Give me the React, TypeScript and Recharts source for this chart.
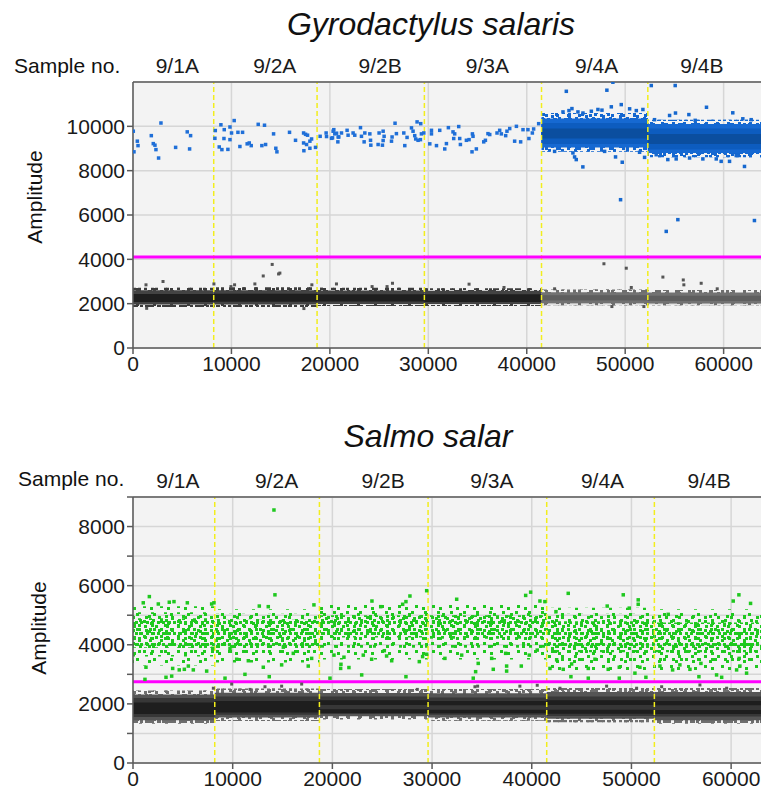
import React from "react";
import {
  ComposedChart,
  Scatter,
  XAxis,
  YAxis,
  CartesianGrid,
  ReferenceArea,
  ReferenceLine,
} from "recharts";

// droplet index boundaries of the six wells
const wellEdges = [0, 8200, 18700, 29600, 41500, 52300, 64000];
const dividerX = [8200, 18700, 29600, 41500, 52300];
const sampleNames = ["9/1A", "9/2A", "9/2B", "9/3A", "9/4A", "9/4B"];
const sampleLabelX = [4500, 14400, 25100, 36000, 47100, 57800];
const xTicks = [0, 10000, 20000, 30000, 40000, 50000, 60000];

// Gyrodactylus salaris panel
const gsYTicks = [0, 2000, 4000, 6000, 8000, 10000];
const gsThreshold = 4100;
// dense clusters: [well, low, high]
const gsNegFringe = [[0, 1850, 2720], [1, 1850, 2740], [2, 1900, 2720], [3, 1900, 2700]];
const gsNegOuter = [[0, 1960, 2600], [1, 1960, 2610], [2, 1990, 2590], [3, 1980, 2580]];
const gsNegCore = [[0, 2080, 2440], [1, 2090, 2450], [2, 2100, 2430], [3, 2080, 2420]];
const gsNegFringeLate = [[4, 1930, 2640], [5, 1930, 2620]];
const gsNegOuterLate = [[4, 2020, 2520], [5, 2010, 2500]];
const gsNegCoreLate = [[4, 2140, 2380], [5, 2120, 2360]];
const gsPosFringeBand = [[4, 8850, 10600], [5, 8600, 10300]];
const gsPosOuter = [[4, 9050, 10350], [5, 8800, 10100]];
const gsPosMid = [[4, 9200, 10150], [5, 8950, 9900]];
const gsPosCore = [[4, 9450, 9900], [5, 9200, 9650]];

// single positive droplets [index, amplitude]
const gsPosSparse = [
  [30, 9780], [440, 9330], [510, 9130], [100, 8850], [2840, 10150], [1860, 9580],
  [2060, 9220], [2230, 9150], [2330, 8950], [2600, 8570], [4330, 9050], [5510, 9750],
  [5850, 9580], [5750, 8980], [8360, 9810], [8320, 9460], [8930, 10070], [9270, 9850],
  [9850, 9970], [10280, 10260], [10010, 9700], [10660, 9730], [11130, 9730], [9240, 9450],
  [9850, 9400], [8760, 9070], [9030, 8950], [9640, 8960], [10860, 9090], [11600, 9210],
  [11810, 9250], [12010, 9130], [12720, 10090], [13360, 10050], [13090, 9130], [13470, 9180],
  [14280, 9660], [14510, 9010], [14620, 8850], [15900, 9730], [16510, 9370], [17330, 9700],
  [17530, 9640], [17730, 9600], [17330, 9250], [17630, 9180], [17970, 9330], [18140, 9430],
  [17360, 8900], [17970, 9010], [18540, 9050], [19010, 9550], [19620, 9700], [19660, 9540],
  [20170, 9460], [20400, 9850], [20680, 9690], [20910, 9520], [20330, 9780], [20500, 9660],
  [20840, 9520], [20270, 9480], [20810, 9300], [21180, 9700], [21750, 9820], [21850, 9600],
  [22360, 9700], [22530, 9600], [23110, 9940], [23210, 9550], [23480, 9300], [23550, 9700],
  [24060, 9660], [24130, 9370], [24160, 9150], [24900, 9180], [25000, 9700], [25410, 9780],
  [25510, 9550], [25410, 9360], [25340, 9150], [26260, 9330], [26320, 9520], [26620, 10140],
  [26760, 9670], [27510, 9700], [27610, 9130], [27840, 9500], [28290, 9930], [28450, 9780],
  [28620, 9580], [28860, 10200], [29230, 10120], [28720, 9430], [28960, 9370], [29300, 9660],
  [29200, 9400], [29540, 9700], [30150, 9210], [30320, 9820], [30320, 9660], [30830, 9130],
  [31160, 9820], [31670, 8980], [31840, 9220], [32040, 9940], [32510, 9750], [32680, 9660],
  [32580, 9450], [33090, 9990], [33190, 9450], [33260, 9180], [33870, 9370], [34140, 9400],
  [34480, 9660], [34540, 9550], [34440, 8850], [34880, 8980], [35630, 9300], [35800, 9370],
  [36060, 9670], [36240, 9630], [36980, 9700], [37250, 9820], [37420, 9660], [37860, 9580],
  [37990, 9780], [38270, 9900], [38770, 9330], [38950, 10000], [39380, 9300], [39620, 9850],
  [40120, 9850], [40220, 9450], [40570, 9700], [40700, 9880], [41210, 10120],
];
const gsPosFringe = [
  [44020, 11580], [48140, 11630], [48750, 11990], [52650, 11840], [55080, 11840], [58260, 10860],
  [60930, 10610], [44860, 8620], [45030, 8500], [45700, 8170], [49020, 8620], [49700, 8380],
  [51970, 8600], [55180, 8530], [57890, 8530], [59750, 8420], [62120, 8190], [49530, 6690],
  [54170, 5260], [55350, 5790], [63130, 5750], [43680, 10650], [44290, 10710], [44590, 10800],
  [45200, 10650], [45710, 10600], [46560, 10680], [47230, 10760], [47640, 10730], [48590, 10880],
  [49600, 10980], [50450, 10790], [51130, 10710], [51800, 10760], [52980, 10300], [54510, 10490],
  [55110, 10600], [56470, 10530], [57110, 10270], [61950, 10340], [62800, 10300], [42830, 8870],
  [44690, 8800], [47910, 8870], [51460, 8830], [53150, 8720], [54330, 8500], [56540, 8570],
  [59250, 8530], [60600, 8420], [61280, 8680],
];
const gsNegSparse = [
  [1320, 2850], [3050, 3000], [8220, 2890], [9950, 2770], [10320, 2850], [12380, 2890],
  [13230, 3250], [14140, 3770], [14790, 3340], [14920, 3380], [18170, 2850], [20670, 2890],
  [24290, 2770], [25810, 2770], [26360, 2920], [1390, 1790], [17360, 1780], [34140, 2880],
  [37690, 2730], [42830, 2670], [47840, 3800], [50110, 3600], [50620, 2730], [53830, 3200],
  [55900, 3070], [55960, 2850], [57720, 2920], [59350, 2670], [48650, 1870], [51900, 1870],
];

// Salmo salar panel
const ssYTicks = [0, 1000, 2000, 3000, 4000, 5000, 6000, 7000, 8000, 9000];
const ssThreshold = 2750;
const ssNegFringe = [[0, 1330, 2450], [1, 1420, 2520], [2, 1470, 2500], [3, 1430, 2500], [4, 1380, 2540], [5, 1330, 2540]];
const ssNegOuter = [[0, 1450, 2320], [1, 1540, 2380], [2, 1580, 2370], [3, 1540, 2360], [4, 1500, 2400], [5, 1450, 2400]];
const ssNegMid = [[0, 1560, 2200], [1, 1630, 2250], [2, 1660, 2250], [3, 1630, 2220], [4, 1590, 2250], [5, 1570, 2250]];
const ssNegCore = [[0, 1660, 2050], [1, 1710, 2100], [2, 1960, 2120], [3, 1950, 2100], [4, 1960, 2120], [5, 1950, 2100]];
const ssNegCore2 = [[2, 1690, 1820], [3, 1680, 1800], [4, 1670, 1800], [5, 1660, 1790]];
const ssPosWide = [[0, 3300, 5300], [1, 3400, 5200], [2, 3500, 5350], [3, 3500, 5400], [4, 3100, 5250], [5, 3100, 5200]];
const ssPosMid = [[0, 3600, 5100], [1, 3700, 5050], [2, 3900, 5200], [3, 3900, 5200], [4, 3400, 5050], [5, 3400, 5000]];
const ssPosCore = [[0, 3900, 4900], [1, 3950, 4850], [2, 4250, 5000], [3, 4200, 5000], [4, 3750, 4800], [5, 3750, 4750]];
const ssPosSparse = [
  [1300, 3240], [1200, 2830], [3310, 2900], [3880, 2940], [3980, 3200], [4640, 3150],
  [5150, 3170], [5550, 3280], [6050, 3150], [7390, 3110], [7990, 3880], [9230, 2870],
  [9730, 3880], [10400, 3510], [11230, 3000], [11570, 3460], [13070, 3240], [13670, 2920],
  [14240, 5690], [14140, 8560], [14910, 3320], [15080, 3920], [16080, 3710], [17580, 3280],
  [17920, 3540], [19760, 2870], [20160, 3650], [1640, 5630], [1030, 5420], [3640, 5440],
  [4110, 5460], [5450, 5420], [7890, 5380], [8120, 5420], [12670, 5310], [13570, 5290],
  [18150, 5350], [2540, 5380], [29460, 5830], [27780, 5650], [23970, 5480], [32470, 5540],
  [39390, 5670], [39890, 5780], [40820, 5480], [24850, 5290], [27050, 5370], [27380, 5460],
  [20860, 3340], [20830, 3200], [21660, 3230], [21160, 3580], [22940, 2980], [23100, 3650],
  [23940, 3510], [25210, 3800], [25440, 3620], [25950, 3460], [27380, 2920], [28720, 3430],
  [29050, 3600], [29460, 3680], [32970, 3650], [34130, 2870], [34370, 3090], [36140, 3170],
  [35980, 3540], [37480, 3280], [37480, 3110], [38950, 3280], [39750, 3650], [40550, 3820],
  [37380, 3710], [34630, 3370], [31290, 3540], [43660, 5740], [49180, 5690], [50680, 5520],
  [50680, 5370], [47570, 5310], [42430, 5120], [60780, 5690], [61950, 5400], [60210, 5480],
  [41320, 5460], [49780, 5240], [53690, 5030], [41830, 3200], [43160, 3170], [43930, 2920],
  [45670, 2870], [45670, 3200], [46340, 3510], [47670, 3170], [48780, 2870], [48780, 3240],
  [50350, 3040], [50850, 3240], [51450, 2900], [52860, 3280], [54130, 3150], [54860, 3320],
  [55870, 3170], [56770, 2920], [56970, 3370], [58540, 2980], [59050, 2900], [60550, 3150],
  [60880, 3280], [60810, 3540], [61550, 3040], [42500, 3490], [44000, 3350],
];
const ssNegSparse = [
  [9900, 2670], [14910, 2600], [16920, 2670], [28520, 2490], [34300, 2580], [34570, 2600],
  [38810, 2600], [40550, 2630], [42830, 2530], [47510, 2600], [50520, 2530], [53030, 2580],
  [56870, 2640], [59550, 2530], [8060, 2530], [11740, 2490], [13240, 2580],
];

const FONT = "'Liberation Sans', Arial, sans-serif";
const tickStyle = { fontSize: 21, fill: "#1a1a1a", fontFamily: FONT };

// droplet texture tiles (three tile sizes overlap into an irregular speckle)
const tiles = [
  { w: 11, h: 11, dots: [[1, 1], [6, 4], [3, 8], [8, 8]] },
  { w: 13, h: 13, dots: [[2, 6], [8, 1], [9, 9]] },
  { w: 17, h: 15, dots: [[0, 3], [7, 10], [12, 5], [14, 12]] },
];

const patternDefs = (pid: string, name: string, color: string) =>
  tiles.map((t, k) => (
    <pattern key={name + k} id={`${pid}-${name}-${k}`} patternUnits="userSpaceOnUse" width={t.w} height={t.h}>
      {t.dots.map(([x, y], i) => (
        <rect key={i} x={x} y={y} width={3} height={3} fill={color} />
      ))}
    </pattern>
  ));

const toPts = (arr: number[][]) => arr.map(([x, y]) => ({ x, y }));

const square = (color: string, s: number) => (p: any) =>
  <rect x={p.cx - s / 2} y={p.cy - s / 2} width={s} height={s} fill={color} />;

const bandAreas = (bands: number[][], fill: string, key: string) =>
  bands.map(([w, lo, hi]) => (
    <ReferenceArea
      key={key + w}
      x1={wellEdges[w]}
      x2={wellEdges[w + 1]}
      y1={lo}
      y2={hi}
      fill={fill}
      fillOpacity={1}
      stroke="none"
      ifOverflow="hidden"
    />
  ));

// speckled band: sparse on the wide range, denser toward the core
const speckle = (bands: number[][], pid: string, name: string, key: string) => [
  ...bandAreas(bands, `url(#${pid}-${name}-2)`, key + "a"),
  ...bandAreas(bands, `url(#${pid}-${name}-1)`, key + "b"),
  ...bandAreas(bands, `url(#${pid}-${name}-0)`, key + "c"),
];

interface PanelProps {
  pid: string;
  width: number;
  height: number;
  margin: { top: number; right: number; bottom: number; left: number };
  yMax: number;
  yTicks: number[];
  yLabel: (v: number) => string;
  threshold: number;
  children: React.ReactNode;
}

const Panel: React.FC<PanelProps> = ({ pid, width, height, margin, yMax, yTicks, yLabel, threshold, children }) => (
  <ComposedChart width={width} height={height} margin={margin}>
    <defs>
      {patternDefs(pid, "green", "#1fc81f")}
      {patternDefs(pid, "gray", "#3c3c3c")}
      {patternDefs(pid, "lgray", "#6e6e6e")}
      {patternDefs(pid, "blue", "#1467d0")}
    </defs>
    <CartesianGrid fill="#f3f3f3" stroke="#d6d6d6" strokeWidth={1.5} />
    <XAxis
      type="number"
      dataKey="x"
      domain={[0, 64000]}
      ticks={xTicks}
      interval={0}
      allowDataOverflow
      tick={tickStyle}
      tickSize={6}
      tickMargin={2}
      stroke="#5a5a5a"
      strokeWidth={1.5}
      height={30}
    />
    <XAxis
      xAxisId="top"
      orientation="top"
      type="number"
      dataKey="x"
      domain={[0, 64000]}
      ticks={sampleLabelX}
      interval={0}
      allowDataOverflow
      tickFormatter={(v: number) => sampleNames[sampleLabelX.indexOf(v)] ?? ""}
      tick={tickStyle}
      tickLine={false}
      tickSize={6}
      tickMargin={3}
      stroke="#5a5a5a"
      strokeWidth={1.5}
      height={30}
    />
    <YAxis
      type="number"
      dataKey="y"
      domain={[0, yMax]}
      ticks={yTicks}
      interval={0}
      allowDataOverflow
      tickFormatter={yLabel}
      tick={tickStyle}
      tickSize={6}
      tickMargin={2}
      stroke="#5a5a5a"
      strokeWidth={1.5}
      width={60}
    />
    {children}
    {/* invisible series that ties the sample-label axis to the chart */}
    <Scatter
      xAxisId="top"
      data={sampleLabelX.map((x) => ({ x, y: 0 }))}
      isAnimationActive={false}
      shape={() => <g />}
    />
    {dividerX.map((x) => (
      <ReferenceLine key={x} x={x} stroke="#f2ee1c" strokeWidth={1.5} strokeDasharray="5 3" />
    ))}
    <ReferenceLine y={threshold} stroke="#ff00ff" strokeWidth={3} />
  </ComposedChart>
);

export default function App() {
  return (
    <div style={{ position: "absolute", left: 0, top: 0, width: 761, height: 789, overflow: "hidden", background: "#fff" }}>
      <div style={{ position: "absolute", left: 0, top: 0 }}>
        <Panel
          pid="gs"
          width={780}
          height={390}
          margin={{ top: 52, right: 17, bottom: 12, left: 73 }}
          yMax={12000}
          yTicks={gsYTicks}
          yLabel={(v) => String(v)}
          threshold={gsThreshold}
        >
          {speckle(gsNegFringe, "gs", "gray", "gnf")}
          {bandAreas(gsNegOuter, "#434343", "gno")}
          {bandAreas(gsNegCore, "#1e1e1e", "gnc")}
          {speckle(gsNegFringeLate, "gs", "lgray", "gnfl")}
          {bandAreas(gsNegOuterLate, "#727272", "gnol")}
          {bandAreas(gsNegCoreLate, "#5e5e5e", "gncl")}
          {speckle(gsPosFringeBand, "gs", "blue", "gpf")}
          {bandAreas(gsPosOuter, "#1669d2", "gpo")}
          {bandAreas(gsPosMid, "#0d5cbf", "gpm")}
          {bandAreas(gsPosCore, "#0b4e9f", "gpc")}
          <Scatter data={toPts(gsNegSparse)} isAnimationActive={false} shape={square("#555555", 3)} />
          <Scatter data={toPts(gsPosSparse)} isAnimationActive={false} shape={square("#1f6fd8", 3.5)} />
          <Scatter data={toPts(gsPosFringe)} isAnimationActive={false} shape={square("#1668cf", 3.5)} />
        </Panel>
      </div>
      <div style={{ position: "absolute", left: 0, top: 415 }}>
        <Panel
          pid="ss"
          width={790}
          height={380}
          margin={{ top: 52, right: 19, bottom: 2, left: 73 }}
          yMax={9000}
          yTicks={ssYTicks}
          yLabel={(v) => (v % 2000 === 0 && v < 9000 ? String(v) : "")}
          threshold={ssThreshold}
        >
          {bandAreas(ssPosWide, "url(#ss-green-2)", "spw")}
          {bandAreas(ssPosMid, "url(#ss-green-1)", "spm")}
          {bandAreas(ssPosCore, "url(#ss-green-0)", "spc")}
          {speckle(ssNegFringe, "ss", "lgray", "snf")}
          {bandAreas(ssNegOuter, "#555555", "sno")}
          {bandAreas(ssNegMid, "#373737", "snm")}
          {bandAreas(ssNegCore, "#1e1e1e", "snc")}
          {bandAreas(ssNegCore2, "#1e1e1e", "snc2")}
          <Scatter data={toPts(ssNegSparse)} isAnimationActive={false} shape={square("#5a5a5a", 3)} />
          <Scatter data={toPts(ssPosSparse)} isAnimationActive={false} shape={square("#1fc81f", 3.5)} />
        </Panel>
      </div>
      <svg width={761} height={789} style={{ position: "absolute", left: 0, top: 0, pointerEvents: "none" }}>
        <g fontFamily={FONT} fill="#111">
          <text x={431} y={35} fontSize={32} fontStyle="italic" textAnchor="middle">Gyrodactylus salaris</text>
          <text x={14} y={73} fontSize={21}>Sample no.</text>
          <text x={42} y={197} fontSize={21} textAnchor="middle" transform="rotate(-90 42 197)">Amplitude</text>
          <text x={428} y={447} fontSize={32} fontStyle="italic" textAnchor="middle">Salmo salar</text>
          <text x={18} y={486} fontSize={21}>Sample no.</text>
          <text x={46} y={628} fontSize={21} textAnchor="middle" transform="rotate(-90 46 628)">Amplitude</text>
        </g>
      </svg>
    </div>
  );
}
